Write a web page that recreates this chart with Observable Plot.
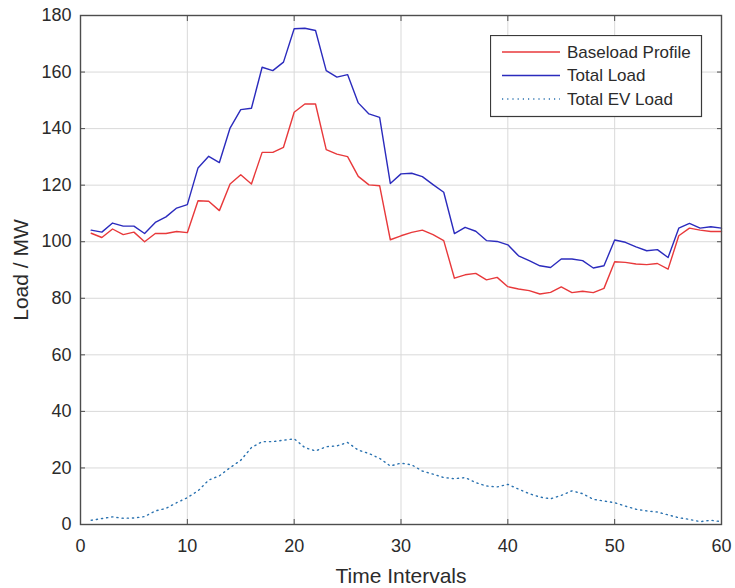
<!DOCTYPE html>
<html><head><meta charset="utf-8">
<script src="https://cdn.jsdelivr.net/npm/d3@7"></script>
<script src="https://cdn.jsdelivr.net/npm/@observablehq/plot@0.6"></script>
<style>
html,body{margin:0;padding:0;background:#fff;}
#wrap{position:relative;width:735px;height:588px;}
#legend{position:absolute;left:490px;top:35px;}
</style></head><body><div id="wrap"></div>
<script>
const timeIntervals = [1,2,3,4,5,6,7,8,9,10,11,12,13,14,15,16,17,18,19,20,21,22,23,24,25,26,27,28,29,30,31,32,33,34,35,36,37,38,39,40,41,42,43,44,45,46,47,48,49,50,51,52,53,54,55,56,57,58,59,60];
const baseload = [103,101.5,104.5,102.5,103.4,100,102.9,102.9,103.6,103.2,
  114.5,114.3,111,120.4,123.7,120.4,131.6,131.6,133.4,145.8,
  148.7,148.7,132.6,131,130.1,123.1,120.1,119.8,100.7,102.1,
  103.3,104.1,102.5,100.4,87.1,88.3,88.8,86.5,87.4,84.1,
  83.3,82.7,81.5,82.1,84,82,82.5,82,83.5,92.9,
  92.7,92.1,91.9,92.3,90.3,102.1,104.8,104.1,103.6,103.6];
const totalLoad = [104.1,103.4,106.6,105.5,105.5,102.9,106.8,108.8,111.9,113.1,
  126.1,130.2,128,140.2,146.7,147.2,161.7,160.5,163.5,175.3,
  175.5,174.7,160.5,158.2,159.1,149.1,145.2,144,120.6,124,
  124.2,123,120.2,117.5,102.9,105.1,103.7,100.4,100.1,98.9,
  95,93.3,91.5,90.9,93.9,93.9,93.3,90.7,91.5,100.6,
  99.8,98.2,96.8,97.2,94.4,104.8,106.5,104.8,105.3,104.8];
const evLoad = [1.5,2.1,2.7,2.2,2.3,2.8,4.8,5.7,7.7,9.5,
  11.9,15.7,17.2,20.1,22.7,27.2,29.3,29.3,29.8,30.3,
  27.2,26,27.5,27.8,29,26.3,25.1,23.4,20.7,21.7,
  21.1,18.9,17.8,16.6,16.2,16.6,14.8,13.6,13.3,14.2,
  12.5,10.9,9.7,9.1,10.3,11.9,10.9,8.9,8.3,7.7,
  6.5,5.4,4.8,4.4,3.4,2.4,1.8,1.0,1.5,1.0];
const xTicks = [0,10,20,30,40,50,60];
const yTicks = [0,20,40,60,80,100,120,140,160,180];
const seriesNames = ["Baseload Profile","Total Load","Total EV Load"];
const seriesColors = ["#e8393b","#2b2bbd","#2a72b0"];

const rows = timeIntervals.map((t,i)=>({t, base: baseload[i], total: totalLoad[i], ev: evLoad[i]}));
const font = '"Liberation Sans", Arial, Helvetica, sans-serif';
const axisColor = "#2b2b2b";
const dotted = "1.2,4";

const plot = Plot.plot({
  width: 735, height: 588,
  marginLeft: 80, marginRight: 14, marginTop: 15, marginBottom: 64,
  style: {fontFamily: font, fontSize: "18px", color: axisColor, background: "#fff"},
  x: {domain: [0, 60]},
  y: {domain: [0, 180]},
  marks: [
    Plot.gridX(xTicks, {stroke: "#d9d9d9", strokeOpacity: 1, strokeWidth: 1}),
    Plot.gridY(yTicks, {stroke: "#d9d9d9", strokeOpacity: 1, strokeWidth: 1}),
    Plot.line(rows, {x: "t", y: "base", stroke: seriesColors[0], strokeWidth: 1.4}),
    Plot.line(rows, {x: "t", y: "total", stroke: seriesColors[1], strokeWidth: 1.4}),
    Plot.line(rows, {x: "t", y: "ev", stroke: seriesColors[2], strokeWidth: 1.4, strokeDasharray: dotted}),
    Plot.frame({stroke: "#4d4d4d", strokeWidth: 1.4}),
    Plot.axisX(xTicks, {anchor: "bottom", tickSize: -5, tickPadding: 20, stroke: "#4d4d4d",
      label: "Time Intervals", labelAnchor: "center", labelOffset: 58, labelArrow: "none"}),
    Plot.axisX(xTicks, {anchor: "top", tickSize: -5, tickFormat: () => "", label: null, stroke: "#4d4d4d"}),
    Plot.axisY(yTicks, {anchor: "left", tickSize: -5, tickPadding: 14, stroke: "#4d4d4d",
      label: "Load / MW", labelAnchor: "center", labelOffset: 67, labelArrow: "none"}),
    Plot.axisY(yTicks, {anchor: "right", tickSize: -5, tickFormat: () => "", label: null, stroke: "#4d4d4d"})
  ]
});
document.getElementById("wrap").appendChild(plot);
d3.select(plot).selectAll('g[aria-label="x-axis label"] text, g[aria-label="y-axis label"] text')
  .attr("font-size", 21);

// legend
const lg = d3.select("#wrap").append("svg").attr("id","legend")
  .attr("width", 213).attr("height", 83);
lg.append("rect").attr("x",0.5).attr("y",0.5).attr("width",211).attr("height",81)
  .attr("fill","#fff").attr("stroke","#3a3a3a").attr("stroke-width",1.2);
const dashes = [null, null, dotted];
seriesNames.forEach((name,i)=>{
  const y = 17 + i*23.5;
  lg.append("line").attr("x1",12).attr("x2",70).attr("y1",y).attr("y2",y)
    .attr("stroke",seriesColors[i]).attr("stroke-width",1.4)
    .attr("stroke-dasharray",dashes[i]);
  lg.append("text").attr("x",77).attr("y",y).attr("dy","0.35em")
    .attr("font-family",font).attr("font-size",17).attr("fill",axisColor).text(name);
});
</script></body></html>
